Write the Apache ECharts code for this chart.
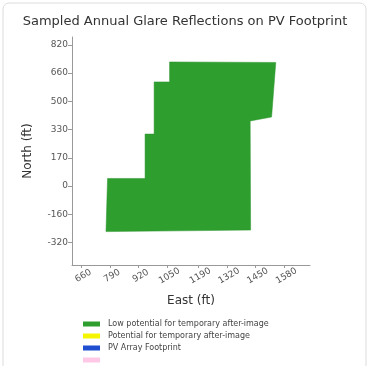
<!DOCTYPE html>
<html>
<head>
<meta charset="UTF-8">
<title>Glare</title>
<style>
  html, body { margin: 0; padding: 0; background: #fff; }
  #main { width: 370px; height: 366px; }
</style>
</head>
<body>
<div id="main"></div>
<script src="https://cdn.jsdelivr.net/npm/echarts@6/dist/echarts.min.js"></script>
<script>
// tick positions and their printed labels
var xTicks = [660, 790, 920, 1050, 1190, 1320, 1450, 1580];
var xTickLabels = ['660', '790', '920', '1050', '1190', '1320', '1450', '1580'];
var yTicks = [-328, -164, 0, 164, 328, 492, 656, 820];
var yTickLabels = ['-320', '-160', '0', '170', '330', '500', '660', '820'];

// footprint outline (East ft, North ft)
var footprintEast  = [1061, 1542, 1523, 1426, 1428, 773, 780, 950, 950, 991, 991, 1061];
var footprintNorth = [721, 718, 401, 378, -256, -265, 44, 44, 302, 302, 605, 605];

var legendNames = ['Low potential for temporary after-image', 'Potential for temporary after-image', 'PV Array Footprint', ' '];
var legendColors = ['#2e9e2e', '#f5f500', '#1f4fd0', '#ffc8e6'];

var polyData = footprintEast.map(function (e, i) { return [e, footprintNorth[i]]; });

var chart = echarts.init(document.getElementById('main'));

function labelFor(ticks, labels) {
  return function (v) {
    for (var i = 0; i < ticks.length; i++) {
      if (Math.abs(ticks[i] - v) < 1e-6) return labels[i];
    }
    return '';
  };
}

var series = [{
  name: legendNames[0],
  type: 'custom',
  renderItem: function (params, api) {
    if (params.dataIndex !== 0) return null;
    var pts = polyData.map(function (p) { return api.coord(p); });
    return {
      type: 'polygon',
      shape: { points: pts },
      style: { fill: legendColors[0], stroke: '#28922a', lineWidth: 0.5 }
    };
  },
  data: polyData,
  encode: { x: 0, y: 1 },
  itemStyle: { color: legendColors[0] },
  silent: true
}];
for (var k = 1; k < legendNames.length; k++) {
  series.push({ name: legendNames[k], type: 'line', data: [], itemStyle: { color: legendColors[k] } });
}

chart.setOption({
  animation: false,
  textStyle: { fontFamily: 'DejaVu Sans' },
  graphic: [{
    type: 'rect',
    shape: { x: 3, y: 3, width: 363, height: 400, r: 6 },
    style: { fill: 'none', stroke: '#dcdcdc', lineWidth: 1 },
    z: -10
  }],
  title: {
    text: 'Sampled Annual Glare Reflections on PV Footprint',
    left: 'center',
    top: 10,
    textStyle: { fontSize: 13, fontWeight: 'normal', color: '#333' }
  },
  grid: { left: 72, right: 60, top: 37, bottom: 101 },
  legend: {
    orient: 'vertical',
    left: 83,
    top: 319,
    height: 120,
    itemWidth: 17,
    itemHeight: 5,
    itemGap: 2,
    icon: 'rect',
    padding: 0,
    data: legendNames,
    textStyle: { fontSize: 8, color: '#444', lineHeight: 10, padding: [0, 0, 0, 3] },
    selectedMode: false
  },
  xAxis: {
    type: 'value',
    min: 619,
    max: 1697,
    name: 'East (ft)',
    nameLocation: 'middle',
    nameGap: 30,
    nameTextStyle: { fontSize: 12, color: '#333' },
    axisLine: { onZero: false, lineStyle: { color: '#999' } },
    axisTick: { show: true, length: 3, customValues: xTicks, lineStyle: { color: '#999' } },
    axisLabel: {
      customValues: xTicks,
      formatter: labelFor(xTicks, xTickLabels),
      rotate: 30,
      align: 'center',
      verticalAlign: 'top',
      fontSize: 9,
      color: '#555',
      margin: 7
    },
    splitLine: { show: false }
  },
  yAxis: {
    type: 'value',
    min: -459,
    max: 866,
    name: 'North (ft)',
    nameLocation: 'middle',
    nameGap: 38,
    nameTextStyle: { fontSize: 12, color: '#333' },
    axisLine: { show: true, onZero: false, lineStyle: { color: '#999' } },
    axisTick: { show: true, length: 4, customValues: yTicks, lineStyle: { color: '#999' } },
    axisLabel: {
      customValues: yTicks,
      formatter: labelFor(yTicks, yTickLabels),
      fontSize: 9,
      color: '#555',
      margin: 4
    },
    splitLine: { show: false }
  },
  series: series
});
</script>
</body>
</html>
